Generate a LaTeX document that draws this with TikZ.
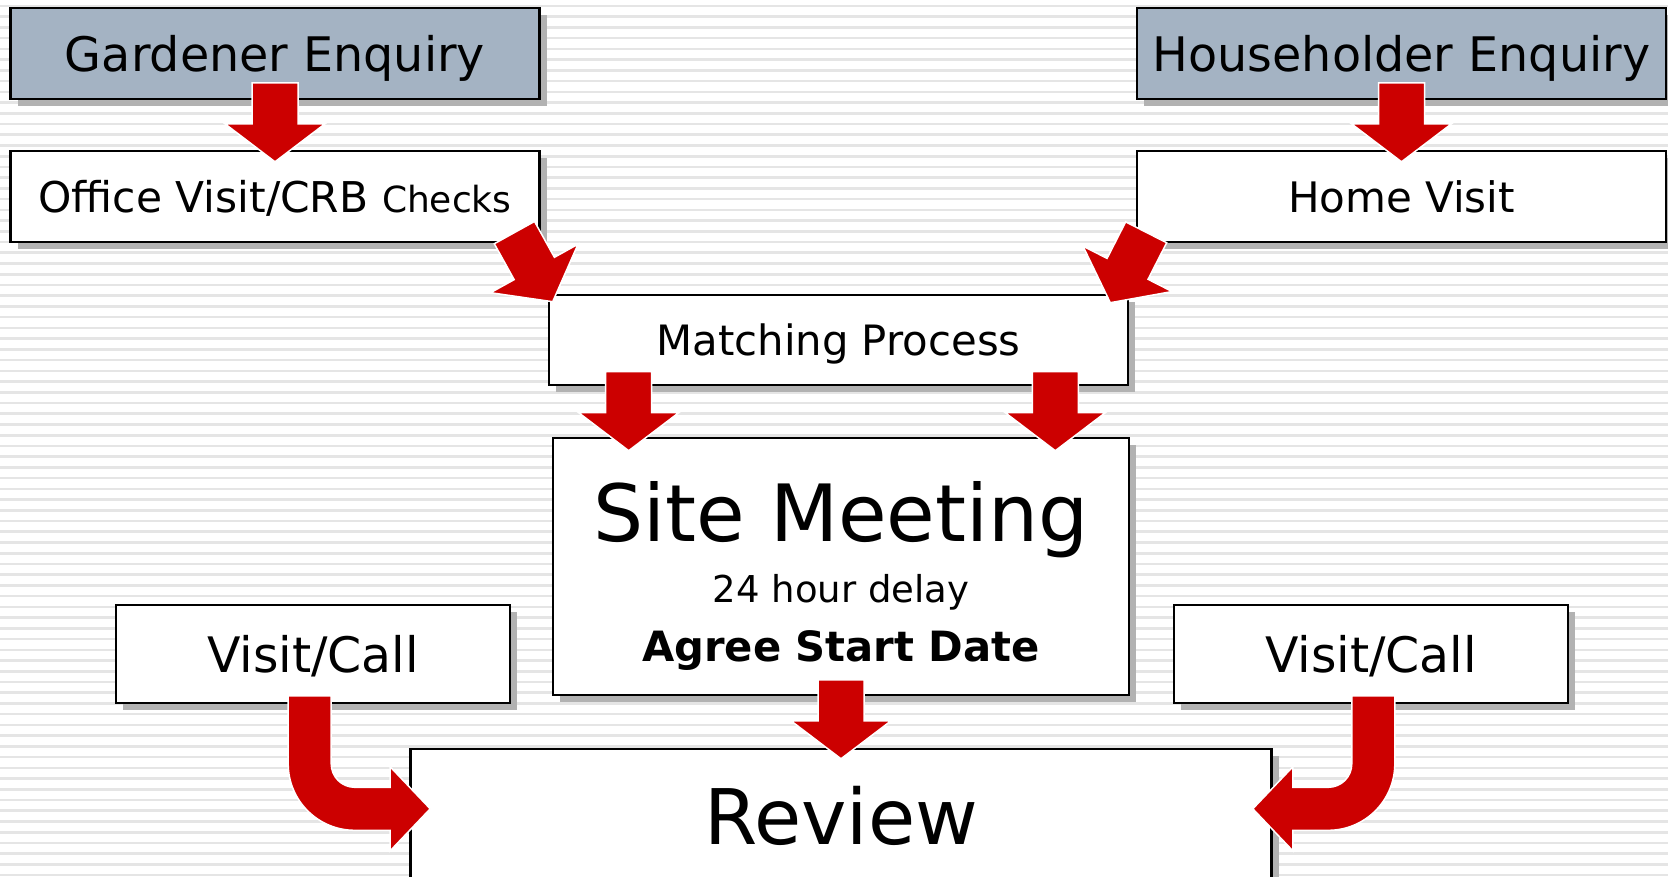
\documentclass[tikz,border=0pt]{standalone}
\usepackage{fontspec}
\setmainfont{DejaVu Sans}
\usetikzlibrary{positioning,calc,shadows}
\definecolor{enquiry blue}{RGB}{164,179,195}
\definecolor{arrow red}{RGB}{204,0,0}
\tikzstyle{stage box}=[
        draw = black,
        line width = 2.6pt,
        fill = white,
        rectangle,
        text depth = 0pt,
        drop shadow = {shadow xshift=7pt, shadow yshift=-7pt, fill=black!30, opacity=1}
    ]
\tikzstyle{enquiry box}=[
    stage box,
    fill = enquiry blue,
    minimum width = 529pt,
    minimum height = 91pt,
    font = \fontsize{47.6pt}{57pt}\selectfont
]
\tikzstyle{block arrow}=[
    fill = arrow red,
    draw = white,
    line width = 1.5pt
]
\tikzstyle{stripe}=[
    draw = black!10,
    line width = 2.6pt
]
\newcommand{\blockarrow}[2]{%
    \filldraw[block arrow, shift={#1}, rotate=#2] (0,0) -- (-38,50) -- (-38,23) -- (-79,23)
        -- (-79,-23) -- (-38,-23) -- (-38,-50) -- cycle;}
\newcommand{\bendarrow}[2]{%
    \filldraw[block arrow, shift={#1}, xscale=#2] (-142,-113) -- (-142,-45)
        arc[start angle=180, end angle=90, radius=66.5] -- (-40,21.5) -- (-40,42) -- (0,0)
        -- (-40,-42) -- (-40,-21.5) -- (-75.5,-21.5)
        arc[start angle=90, end angle=180, radius=23.5] -- (-99,-113) -- cycle;}

\begin{document}
\begin{tikzpicture}[x=1pt, y=-1pt]
        \clip (0,0) rectangle (1668,877);
        \fill[white] (0,0) rectangle (1668,877);
        \foreach \k in {0,...,81}
            \draw[stripe] (0,{6+10.73*\k}) -- (1668,{6+10.73*\k});

        \node[enquiry box] (gardener) at (275,53.5) {Gardener Enquiry};
        \node[enquiry box] (householder) at (1401.5,53.5) {Householder Enquiry};
        \node[stage box, minimum width=529pt, minimum height=91pt, font=\fontsize{42.4pt}{50pt}\selectfont] (office) [below=49.5pt of gardener] {Office Visit/CRB {\fontsize{36pt}{42pt}\selectfont Checks}};
        \node[stage box, minimum width=529pt, minimum height=91pt, font=\fontsize{42pt}{50pt}\selectfont] (home) [below=49.5pt of householder] {Home Visit};
        \node[stage box, minimum width=579pt, minimum height=90pt, font=\fontsize{41.8pt}{50pt}\selectfont] (matching) at (838.5,340) {Matching Process};
        \node[stage box, minimum width=576pt, minimum height=257pt] (site) at (841,566.5) {};
        \node[stage box, minimum width=861pt, minimum height=132pt, font=\fontsize{76.7pt}{90pt}\selectfont] (review) [below=51.5pt of site] {Review};
        \node[stage box, minimum width=394pt, minimum height=98pt, font=\fontsize{48.9pt}{58pt}\selectfont] (visitL) at (313,654) {Visit/Call};
        \node[stage box, minimum width=394pt, minimum height=98pt, font=\fontsize{48.9pt}{58pt}\selectfont] (visitR) at (1371,654) {Visit/Call};

        \node[anchor=base, font=\fontsize{79pt}{90pt}\selectfont] (sitetitle) at ($(site.north)+(0,104.5)$) {Site Meeting};
        \node[anchor=base, font=\fontsize{37pt}{44pt}\selectfont] (sitedelay) at ($(site.north)+(0,166)$) {24 hour delay};
        \node[anchor=base, font=\fontsize{41.7pt}{50pt}\selectfont\bfseries] (sitedate) at ($(site.north)+(0,225)$) {Agree Start Date};

        \blockarrow{($(office.north)+(0,12)$)}{-90}
        \blockarrow{($(home.north)+(0,12)$)}{-90}
        \blockarrow{($(matching.north west)+(5,8)$)}{-61}
        \blockarrow{($(matching.north east)+(-19,9)$)}{-117}
        \blockarrow{($(site.north west)+(77,14)$)}{-90}
        \blockarrow{($(site.north east)+(-75,14)$)}{-90}
        \blockarrow{($(review.north)+(0,11)$)}{-90}
        \bendarrow{($(review.north west)+(21,61)$)}{1}
        \bendarrow{($(review.north east)+(-20,61)$)}{-1}

    \end{tikzpicture}
\end{document}
